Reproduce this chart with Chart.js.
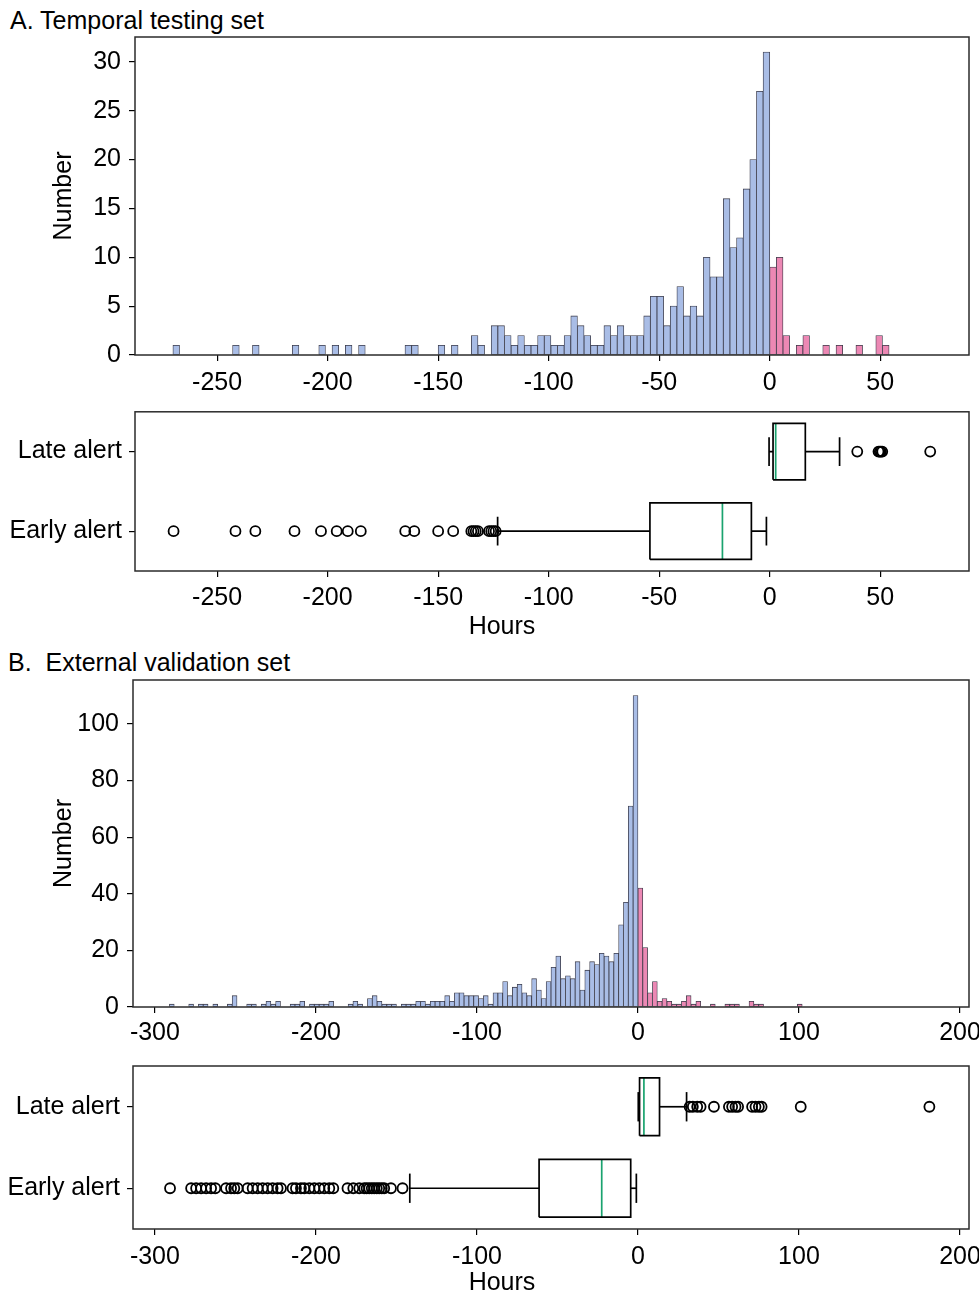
<!DOCTYPE html>
<html>
<head>
<meta charset="utf-8">
<script src="https://cdn.jsdelivr.net/npm/chart.js@4.4.0/dist/chart.umd.min.js"></script>
<style>
  html, body { margin: 0; padding: 0; background: #fff; overflow: hidden; }
  body { width: 979px; height: 1291px; position: relative; font-family: "Liberation Sans", Arial, sans-serif; }
  .label { position: absolute; font-size: 25px; line-height: 30px; white-space: pre; color: #000; }
  .hours { left: 402px; width: 200px; text-align: center; }
  .holder { position: absolute; left: 0; width: 979px; }
</style>
</head>
<body>
<div class="label" style="left:10px; top:5px;">A. Temporal testing set</div>
<div class="holder" style="top:30px; height:375px;"><canvas id="histA"></canvas></div>
<div class="holder" style="top:405px; height:240px;"><canvas id="boxA"></canvas></div>
<div class="label hours" style="top:610px;">Hours</div>
<div class="label" style="left:8px; top:647px;">B.  External validation set</div>
<div class="holder" style="top:672px; height:373px;"><canvas id="histB"></canvas></div>
<div class="holder" style="top:1045px; height:255px;"><canvas id="boxB"></canvas></div>
<div class="label hours" style="top:1266px;">Hours</div>

<script>
// ---- data ----
const BIN_WIDTH = 3;
const boxCategories = ['Early alert', 'Late alert'];

// A. temporal testing set
const earlyStartA = -270;
const earlyCountsA = [
  1, 0, 0, 0, 0, 0, 0, 0, 0, 1,
  0, 0, 1, 0, 0, 0, 0, 0, 1, 0,
  0, 0, 1, 0, 1, 0, 1, 0, 1, 0,
  0, 0, 0, 0, 0, 1, 1, 0, 0, 0,
  1, 0, 1, 0, 0, 2, 1, 0, 3, 3,
  2, 1, 2, 1, 1, 2, 2, 1, 1, 2,
  4, 3, 2, 1, 1, 3, 2, 3, 2, 2,
  2, 4, 6, 6, 3, 5, 7, 4, 5, 4,
  10, 8, 8, 16, 11, 12, 17, 20, 27, 31
];
const lateStartA = 0;
const lateCountsA = [9, 10, 2, 0, 1, 2, 0, 0, 1, 0, 1, 0, 0, 1, 0, 0, 2, 1];
// [low whisker, q1, median, q3, high whisker]
const earlyBoxA = [-123.1, -54.2, -21.4, -8.3, -1.5];
const lateBoxA = [-0.3, 1.5, 2.7, 16.1, 31.6];
const earlyOutliersA = [-269.7, -241.7, -232.7, -215, -203, -195.9, -190.9, -185, -164.9, -160.8,
  -150, -143.2, -135, -134, -133, -132, -127, -126, -125, -124];
const lateOutliersA = [39.6, 49.2, 49.8, 50.3, 50.9, 72.6];
const xRangeA = [-287.15, 90.15];
const xTicksA = [-250, -200, -150, -100, -50, 0, 50];
const yMaxA = 32.55;
const yTicksA = [0, 5, 10, 15, 20, 25, 30];

// B. external validation set
const earlyStartB = -291;
const earlyCountsB = [
  1, 0, 0, 0, 1, 0, 1,
  1, 0, 1, 0, 0, 1, 4, 0, 0, 1,
  1, 0, 1, 2, 1, 2, 0, 0, 1, 1,
  2, 0, 1, 1, 1, 1, 2, 0, 0, 0,
  1, 2, 1, 0, 3, 4, 2, 1, 1, 1,
  0, 1, 1, 1, 2, 2, 1, 2, 2, 2,
  4, 2, 5, 5, 4, 4, 4, 3, 4, 1,
  5, 5, 9, 4, 7, 8, 5, 4, 10, 6,
  3, 9, 14, 18, 10, 11, 10, 16, 6, 13,
  16, 15, 19, 18, 16, 19, 29, 37, 71, 110
];
const lateStartB = 0;
const lateCountsB = [42, 21, 5, 9, 2, 3, 2, 1, 1, 2, 4, 1, 2, 0, 0, 1, 0, 0, 1, 1, 1, 0, 0, 2, 1, 1,
  0, 0, 0, 0, 0, 0, 0, 1];
const earlyBoxB = [-141.7, -61.4, -22.5, -4.5, -1.0];
const lateBoxB = [0.2, 1.0, 3.7, 13.4, 30.2];
const earlyOutliersB = [-290.6, -277.5, -274.4, -271.3, -268.2, -265.1, -262.5, -255.8, -252.7, -250.7,
  -248.6, -242.4, -239.3, -236.2, -233.1, -230, -226.9, -223.8, -221.7, -214.5, -212.4, -209.3,
  -207.2, -204.1, -201, -197.9, -194.8, -191.7, -189.2, -180.4, -176.8, -173.1, -170, -168.5,
  -166.9, -165.3, -163.8, -162.2, -160.7, -159.1, -157.6, -153.4, -146.2];
const lateOutliersB = [32.1, 34.1, 36.8, 38.9, 47.2, 56.5, 58.5, 60.6, 62.2, 70.9, 73, 75.1, 76.8, 101.1, 181];
const xRangeB = [-313.6, 205.6];
const xTicksB = [-300, -200, -100, 0, 100, 200];
const yMaxB = 115.5;
const yTicksB = [0, 20, 40, 60, 80, 100];

// ---- look ----
const EARLY_FILL = '#a9bde6';
const LATE_FILL = '#ec88b4';
const BAR_EDGE = '#3a3a48';
const MEDIAN = '#1aa36f';
const HALF = 0.355;   // half box height
const CAP = 0.18;     // half cap length

Chart.defaults.font.family = "'Liberation Sans', Arial, sans-serif";
Chart.defaults.font.size = 25;
Chart.defaults.color = '#000';
Chart.defaults.animation = false;
Chart.defaults.plugins.legend.display = false;
Chart.defaults.plugins.tooltip.enabled = false;

const frame = {
  id: 'frame',
  afterDraw(chart) {
    const { ctx, chartArea: a } = chart;
    ctx.save();
    ctx.strokeStyle = '#2b2b2b';
    ctx.lineWidth = 1.5;
    ctx.strokeRect(a.left, a.top, a.right - a.left, a.bottom - a.top);
    ctx.restore();
  }
};

const tickGrid = { display: true, drawOnChartArea: false, drawTicks: true, tickLength: 6, color: '#000', lineWidth: 1.2, offset: false };

// let the layout padding alone decide where the plot area sits
function noEdgePadding(s) {
  s.paddingLeft = 0; s.paddingRight = 0; s.paddingTop = 0; s.paddingBottom = 0;
}

function bins(counts, start) {
  return counts.map((c, i) => ({ x: start + BIN_WIDTH * (i + 0.5), y: c })).filter(d => d.y > 0);
}

function hoursAxis(range, ticks, height, gap) {
  return {
    type: 'linear', min: range[0], max: range[1], offset: false,
    afterBuildTicks: s => { s.ticks = ticks.map(v => ({ value: v })); },
    afterFit: s => { s.height = height; noEdgePadding(s); },
    grid: tickGrid,
    border: { display: false },
    ticks: { padding: gap, maxRotation: 0, autoSkip: false, callback: v => String(v) }
  };
}

function countAxis(max, ticks, width) {
  return {
    type: 'linear', min: 0, max,
    afterBuildTicks: s => { s.ticks = ticks.map(v => ({ value: v })); },
    afterFit: s => { s.width = width; noEdgePadding(s); },
    grid: tickGrid,
    border: { display: false },
    ticks: { padding: 8, callback: v => String(v) },
    title: { display: true, text: 'Number', padding: { top: 49, bottom: 0 } }
  };
}

function categoryAxis(width) {
  return {
    type: 'linear', min: 0.5, max: 2.5,
    afterBuildTicks: s => { s.ticks = [1, 2].map(v => ({ value: v })); },
    afterFit: s => { s.width = width; noEdgePadding(s); },
    grid: tickGrid,
    border: { display: false },
    ticks: { padding: 7, callback: v => boxCategories[v - 1] }
  };
}

function histogram(id, early, late, xRange, xTicks, yMax, yTicks, left, padTop, axisH, gap) {
  new Chart(document.getElementById(id), {
    type: 'bar',
    data: {
      datasets: [
        { data: early, backgroundColor: EARLY_FILL, borderColor: BAR_EDGE, borderWidth: 0.8 },
        { data: late, backgroundColor: LATE_FILL, borderColor: BAR_EDGE, borderWidth: 0.8 }
      ]
    },
    options: {
      responsive: true,
      maintainAspectRatio: false,
      layout: { padding: { top: padTop, right: 10, bottom: 0, left: 0 } },
      datasets: { bar: { grouped: false, barPercentage: 1, categoryPercentage: 1, borderSkipped: false } },
      scales: {
        x: hoursAxis(xRange, xTicks, axisH, gap),
        y: countAxis(yMax, yTicks, left)
      }
    },
    plugins: [frame]
  });
}

function line(pts, color) {
  return {
    data: pts.map(([x, y]) => ({ x, y })),
    showLine: true, pointRadius: 0, pointHoverRadius: 0,
    borderColor: color, borderWidth: 1.7, borderJoinStyle: 'miter', fill: false
  };
}

function boxSets(stats, outliers, y) {
  const [lo, q1, med, q3, hi] = stats;
  return [
    line([[lo, y], [q1, y]], '#000'),
    line([[q3, y], [hi, y]], '#000'),
    line([[lo, y - CAP], [lo, y + CAP]], '#000'),
    line([[hi, y - CAP], [hi, y + CAP]], '#000'),
    line([[q1, y - HALF], [q3, y - HALF], [q3, y + HALF], [q1, y + HALF], [q1, y - HALF]], '#000'),
    line([[med, y - HALF], [med, y + HALF]], MEDIAN),
    {
      data: outliers.map(x => ({ x, y })), showLine: false,
      pointStyle: 'circle', pointRadius: 5, pointHoverRadius: 5, pointBorderWidth: 1.8,
      pointBorderColor: '#000', pointBackgroundColor: 'rgba(0,0,0,0)'
    }
  ];
}

function boxplot(id, early, earlyOut, late, lateOut, xRange, xTicks, left, padTop, axisH, gap) {
  new Chart(document.getElementById(id), {
    type: 'scatter',
    data: { datasets: [...boxSets(early, earlyOut, 1), ...boxSets(late, lateOut, 2)] },
    options: {
      responsive: true,
      maintainAspectRatio: false,
      layout: { padding: { top: padTop, right: 10, bottom: 0, left: 0 } },
      scales: {
        x: hoursAxis(xRange, xTicks, axisH, gap),
        y: categoryAxis(left)
      }
    },
    plugins: [frame]
  });
}

histogram('histA', bins(earlyCountsA, earlyStartA), bins(lateCountsA, lateStartA),
  xRangeA, xTicksA, yMaxA, yTicksA, 135, 7, 50, 7);
boxplot('boxA', earlyBoxA, earlyOutliersA, lateBoxA, lateOutliersA, xRangeA, xTicksA, 135, 6.5, 74, 6);
histogram('histB', bins(earlyCountsB, earlyStartB), bins(lateCountsB, lateStartB),
  xRangeB, xTicksB, yMaxB, yTicksB, 133, 8, 38, 5);
boxplot('boxB', earlyBoxB, earlyOutliersB, lateBoxB, lateOutliersB, xRangeB, xTicksB, 133, 21, 71, 7);
</script>
</body>
</html>
